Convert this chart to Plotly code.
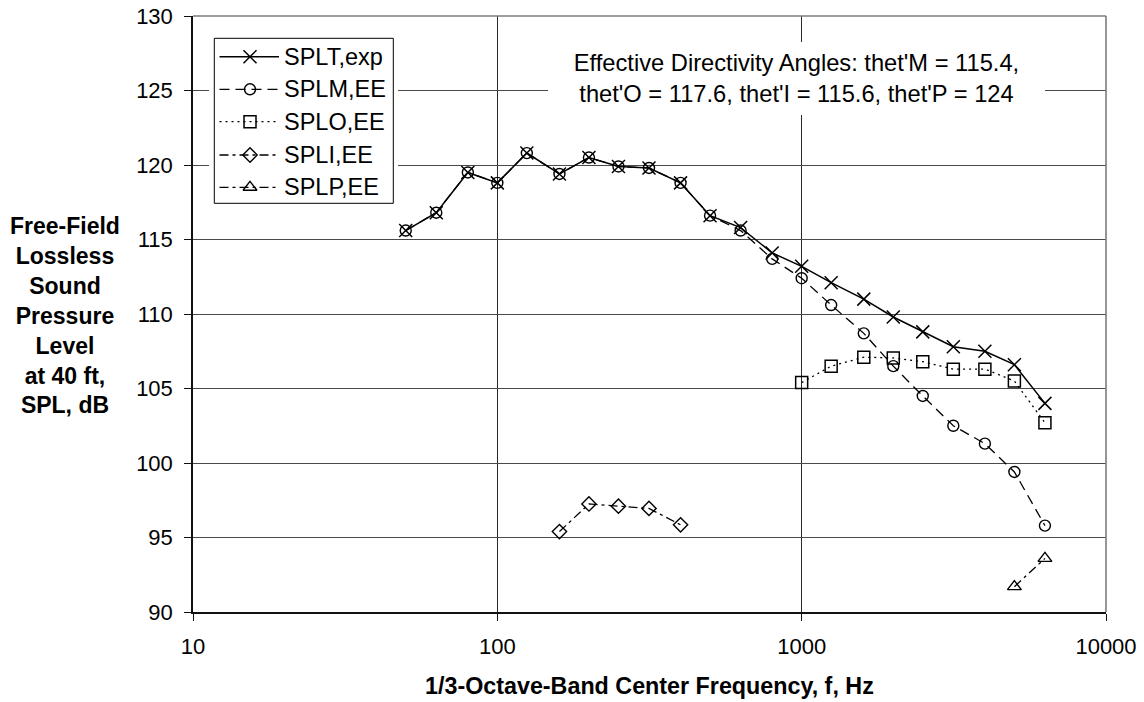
import plotly.graph_objects as go

# ---------------- data ----------------
freq_T = [50, 63, 80, 100, 125, 160, 200, 250, 315, 400, 500, 630,
          800, 1000, 1250, 1600, 2000, 2500, 3150, 4000, 5000, 6300]
spl_T = [115.6, 116.8, 119.5, 118.8, 120.8, 119.4, 120.5, 119.9, 119.8, 118.8, 116.6, 115.8,
         114.1, 113.2, 112.1, 111.0, 109.8, 108.8, 107.8, 107.5, 106.6, 104.0]

freq_M = [50, 63, 80, 100, 125, 160, 200, 250, 315, 400, 500, 630,
          800, 1000, 1250, 1600, 2000, 2500, 3150, 4000, 5000, 6300]
spl_M = [115.6, 116.8, 119.5, 118.8, 120.8, 119.4, 120.5, 119.9, 119.8, 118.8, 116.6, 115.6,
         113.7, 112.4, 110.6, 108.7, 106.5, 104.5, 102.5, 101.3, 99.4, 95.8]

freq_O = [1000, 1250, 1600, 2000, 2500, 3150, 4000, 5000, 6300]
spl_O = [105.4, 106.5, 107.1, 107.05, 106.8, 106.3, 106.3, 105.5, 102.7]

freq_I = [160, 200, 250, 315, 400]
spl_I = [95.4, 97.25, 97.1, 96.95, 95.85]

freq_P = [5000, 6300]
spl_P = [91.7, 93.6]

series_names = ["SPLT,exp", "SPLM,EE", "SPLO,EE", "SPLI,EE", "SPLP,EE"]

x_tick_vals = [10, 100, 1000, 10000]
x_tick_text = ["10", "100", "1000", "10000"]
y_tick_vals = [90, 95, 100, 105, 110, 115, 120, 125, 130]
y_tick_text = ["90", "95", "100", "105", "110", "115", "120", "125", "130"]

x_title = "1/3-Octave-Band Center Frequency, f, Hz"
y_title_lines = ["Free-Field", "Lossless", "Sound", "Pressure", "Level", "at 40 ft,", "SPL, dB"]
note_lines = ["Effective Directivity Angles: thet'M = 115.4,",
              "thet'O = 117.6, thet'I = 115.6, thet'P = 124"]

# ---------------- layout geometry (window pixels) ----------------
W, H = 1144, 702
L, R, T, B = 193, 1106, 16, 612
FONT = "Liberation Sans, Arial, sans-serif"


def px_x(px):
    return (px - L) / (R - L)


def px_y(py):
    return (B - py) / (B - T)


styles = [
    dict(dash="solid", width=1.5, symbol="x-thin-open", size=13, mlw=1.5),
    dict(dash="10px,6px", width=1.3, symbol="circle-open", size=11, mlw=1.4),
    dict(dash="2px,4px", width=1.3, symbol="square-open", size=12, mlw=1.5),
    dict(dash="9px,4px,3px,4px", width=1.3, symbol="diamond-open", size=11, mlw=1.4),
    dict(dash="9px,4px,3px,4px", width=1.3, symbol="triangle-up-open", size=12, mlw=1.4),
]

series = [(freq_T, spl_T), (freq_M, spl_M), (freq_O, spl_O), (freq_I, spl_I), (freq_P, spl_P)]

fig = go.Figure()

for (fx, fy), name, st in zip(series, series_names, styles):
    fig.add_trace(go.Scatter(
        x=fx, y=fy, mode="lines+markers", name=name, showlegend=False,
        line=dict(color="black", width=st["width"], dash=st["dash"]),
        marker=dict(symbol=st["symbol"], size=st["size"], color="black",
                    line=dict(color="black", width=st["mlw"])),
        xaxis="x", yaxis="y", cliponaxis=False,
    ))

# ---------------- custom legend (overlay subplot in window-pixel units) ----------------
LG_X0, LG_X1, LG_Y0, LG_Y1 = 214.3, 393.3, 38.3, 203.3
LD_X0, LD_X1, LD_Y0, LD_Y1 = 209, 398, 33, 208  # legend subplot extent (window pixels)
row_y = [56.7, 89.3, 121.7, 155.0, 187.3]
line_x0, line_x1, mark_x, text_x = 219.5, 279.0, 250.0, 281.5

for name, st, ry in zip(series_names, styles, row_y):
    fig.add_trace(go.Scatter(
        x=[line_x0, line_x1], y=[ry, ry], mode="lines", showlegend=False, hoverinfo="skip",
        line=dict(color="black", width=st["width"], dash=st["dash"]),
        xaxis="x2", yaxis="y2",
    ))
    fig.add_trace(go.Scatter(
        x=[mark_x], y=[ry], mode="markers", showlegend=False, hoverinfo="skip",
        marker=dict(symbol=st["symbol"], size=st["size"], color="black",
                    line=dict(color="black", width=st["mlw"])),
        xaxis="x2", yaxis="y2",
    ))

annotations = []
for name, ry in zip(series_names, row_y):
    annotations.append(dict(
        x=text_x, y=ry, xref="x2", yref="y2", text=name, showarrow=False,
        xanchor="left", yanchor="middle", font=dict(family=FONT, size=23.5, color="black"),
    ))

# directivity note
annotations.append(dict(
    x=px_x(796.5), y=px_y(78.4), xref="paper", yref="paper",
    text="<br>".join(note_lines), showarrow=False, align="center",
    xanchor="center", yanchor="middle", width=497, height=73,
    bgcolor="white", borderpad=0, borderwidth=0,
    font=dict(family=FONT, size=23.7, color="black"),
))

# y-axis title
annotations.append(dict(
    x=px_x(65), y=px_y(315), xref="paper", yref="paper",
    text="<b>" + "<br>".join(y_title_lines) + "</b>", showarrow=False, align="center",
    xanchor="center", yanchor="middle",
    font=dict(family=FONT, size=23, color="black"),
))

# x-axis title
annotations.append(dict(
    x=px_x(649.5), y=px_y(686), xref="paper", yref="paper",
    text="<b>" + x_title + "</b>", showarrow=False,
    xanchor="center", yanchor="middle",
    font=dict(family=FONT, size=23.3, color="black"),
))

shapes = [
    # legend box (drawn in legend subplot, below its traces but above main plot)
    dict(type="rect", xref="x2", yref="y2", x0=LG_X0, x1=LG_X1, y0=LG_Y0, y1=LG_Y1,
         fillcolor="white", line=dict(color="black", width=1), layer="below"),
    # gray top/right frame
    dict(type="line", xref="paper", yref="paper", x0=0, x1=1, y0=1, y1=1,
         line=dict(color="#7c7c7c", width=1.6), layer="above"),
    dict(type="line", xref="paper", yref="paper", x0=1, x1=1, y0=0, y1=1,
         line=dict(color="#7c7c7c", width=1.6), layer="above"),
]

fig.update_layout(
    width=W, height=H,
    margin=dict(l=L, r=W - R, t=T, b=H - B, pad=0),
    paper_bgcolor="white", plot_bgcolor="white",
    font=dict(family=FONT, size=22, color="black"),
    showlegend=False,
    xaxis=dict(
        type="log", range=[1, 4], domain=[0, 1], anchor="y",
        tickvals=x_tick_vals, ticktext=x_tick_text,
        showgrid=True, gridcolor="#2a2a2a", gridwidth=1,
        showline=True, linecolor="#111", linewidth=1.5,
        ticks="outside", ticklen=7, tickcolor="#111", tickwidth=1,
        tickfont=dict(family=FONT, size=22, color="black"),
        ticklabelstandoff=7, ticklabeloverflow="allow",
        zeroline=False, automargin=False, fixedrange=True,
    ),
    yaxis=dict(
        range=[90, 130], domain=[0, 1], anchor="x",
        tickvals=y_tick_vals, ticktext=y_tick_text,
        showgrid=True, gridcolor="#4a4a4a", gridwidth=1,
        showline=True, linecolor="#111", linewidth=1.5,
        ticks="outside", ticklen=7, tickcolor="#111", tickwidth=1,
        tickfont=dict(family=FONT, size=22, color="black"),
        ticklabelstandoff=7, ticklabeloverflow="allow",
        zeroline=False, automargin=False, fixedrange=True,
    ),
    xaxis2=dict(
        domain=[px_x(LD_X0), px_x(LD_X1)], range=[LD_X0, LD_X1], anchor="y2",
        visible=False, showgrid=False, zeroline=False, fixedrange=True,
    ),
    yaxis2=dict(
        domain=[px_y(LD_Y1), px_y(LD_Y0)], range=[LD_Y1, LD_Y0], anchor="x2",
        visible=False, showgrid=False, zeroline=False, fixedrange=True,
    ),
    annotations=annotations,
    shapes=shapes,
)

# remove the default 8px page margin so the figure sits at the window origin
fig.write_html(
    "out.html",
    config={"displayModeBar": False},
    post_script="document.body.style.margin='0';document.body.style.overflow='hidden';",
)
